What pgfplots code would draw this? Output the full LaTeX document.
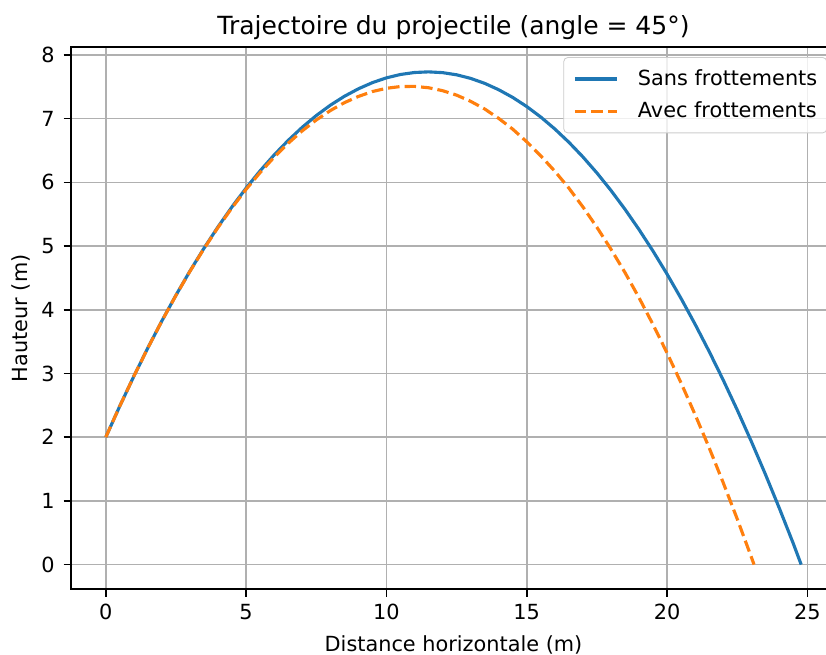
\documentclass[border=0pt]{standalone}
\usepackage{fontspec}
\setmainfont{DejaVu Sans}
\usepackage{pgfplots}
\pgfplotsset{compat=1.18}
\definecolor{mplblue}{HTML}{1F77B4}
\definecolor{mplorange}{HTML}{FF7F0E}
\definecolor{mplgrid}{HTML}{B0B0B0}
\begin{document}
\begin{tikzpicture}
\begin{axis}[
  name=ax,
  scale only axis,
  width=367.2pt, height=260.16pt,
  xmin=-1.239, xmax=26.02,
  ymin=-0.387, ymax=8.12,
  xtick={0,5,10,15,20,25},
  ytick={0,1,2,3,4,5,6,7,8},
  xtick pos=bottom, ytick pos=left,
  /pgf/number format/assume math mode=true,
  tick align=outside,
  major tick length=3.5pt,
  tick style={black, line width=0.8pt},
  axis line style={black, line width=0.8pt},
  grid=major,
  major grid style={mplgrid, line width=0.8pt},
  tick label style={font=\fontsize{10}{12}\selectfont, inner sep=0pt},
  xticklabel shift=3.5pt,
  yticklabel shift=4.2pt,
  title={Trajectoire du projectile (angle = 45°)},
  every axis title/.style={font=\fontsize{12}{14.4}\selectfont, at={(axis description cs:0.5,1)}, anchor=base, yshift=5.9pt},
  xlabel={Distance horizontale (m)},
  ylabel={Hauteur (m)},
  every axis x label/.style={at={(axis description cs:0.5,0)}, anchor=base, yshift=-29.8pt, font=\fontsize{10}{12}\selectfont},
  every axis y label/.style={at={(axis description cs:0,0.5)}, rotate=90, anchor=center, yshift=23.8pt, font=\fontsize{10}{12}\selectfont},
  legend style={at={(axis description cs:1,1)}, anchor=north east, xshift=-4.2pt, yshift=-4.7pt,
    draw=black!20, rounded corners=2pt, fill=white, fill opacity=0.8, text opacity=1,
    font=\fontsize{10}{12}\selectfont, inner xsep=4.6pt, inner ysep=5.8pt, row sep=6.4pt,
    nodes={inner sep=0pt}},
  /tikz/every odd column/.append style={column sep=9.5pt},
  legend cell align=left,
  legend image code/.code={\draw[#1] (0pt,0pt) -- (20pt,0pt);},
]
\addplot[mplblue, line width=1.5pt] coordinates {
(0,2.000) (0.5,2.489) (1,2.956) (1.5,3.402) (2,3.826) (2.5,4.228) (3,4.608) (3.5,4.966)
(4,5.302) (4.5,5.617) (5,5.910) (5.5,6.181) (6,6.430) (6.5,6.658) (7,6.864) (7.5,7.048)
(8,7.210) (8.5,7.350) (9,7.468) (9.5,7.565) (10,7.640) (10.5,7.693) (11,7.724) (11.5,7.734)
(12,7.722) (12.5,7.688) (13,7.632) (13.5,7.554) (14,7.454) (14.5,7.333) (15,7.190) (15.5,7.025)
(16,6.838) (16.5,6.630) (17,6.400) (17.5,6.148) (18,5.874) (18.5,5.578) (19,5.260) (19.5,4.921)
(20,4.560) (20.5,4.177) (21,3.772) (21.5,3.346) (22,2.898) (22.5,2.428) (23,1.936) (23.5,1.422)
(24,0.886) (24.5,0.329) (24.78,0.000)
};
\addlegendentry{Sans frottements}
\addplot[mplorange, line width=1.5pt, dash pattern=on 5.55pt off 2.4pt] coordinates {
(0,2.000) (0.5,2.489) (1,2.956) (1.5,3.401) (2,3.825) (2.5,4.225) (3,4.604) (3.5,4.959)
(4,5.292) (4.5,5.602) (5,5.890) (5.5,6.154) (6,6.395) (6.5,6.613) (7,6.808) (7.5,6.979)
(8,7.126) (8.5,7.250) (9,7.348) (9.5,7.425) (10,7.476) (10.5,7.504) (11,7.506) (11.5,7.485)
(12,7.439) (12.5,7.369) (13,7.272) (13.5,7.152) (14,7.004) (14.5,6.835) (15,6.637) (15.5,6.416)
(16,6.175) (16.5,5.910) (17,5.615) (17.5,5.295) (18,4.952) (18.5,4.585) (19,4.190) (19.5,3.768)
(20,3.322) (20.5,2.851) (21,2.354) (21.5,1.834) (22,1.287) (22.5,0.717) (23,0.122) (23.10,0.000)
};
\addlegendentry{Avec frottements}
\end{axis}
\pgfresetboundingbox
\useasboundingbox ([xshift=-34.08pt,yshift=-31.54pt]ax.south west) rectangle ([xshift=362.4pt,yshift=22.7pt]ax.north west);
\end{tikzpicture}
\end{document}
